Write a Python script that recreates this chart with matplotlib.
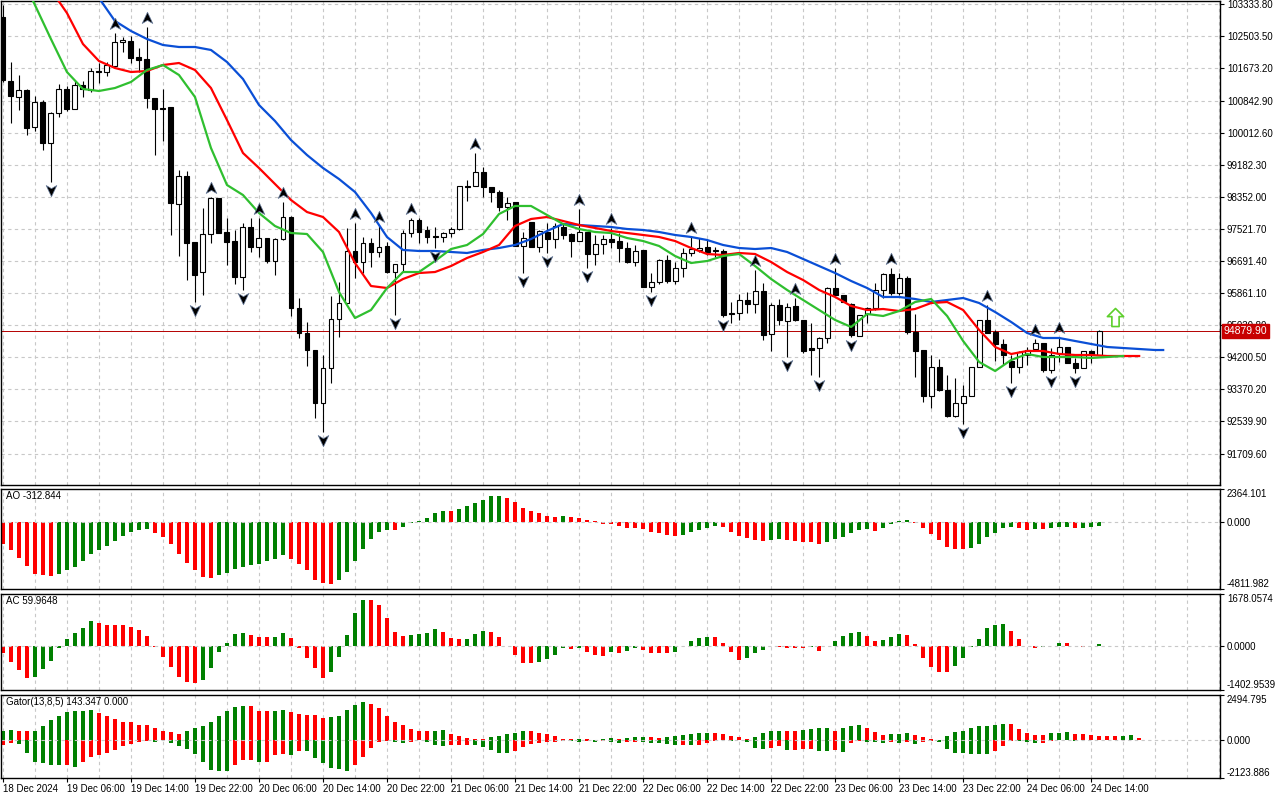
import matplotlib
matplotlib.use("Agg")
import matplotlib.pyplot as plt
from matplotlib.path import Path
from matplotlib.transforms import offset_copy, blended_transform_factory

plt.rcParams["font.family"] = ["Liberation Sans", "DejaVu Sans"]
plt.rcParams["font.size"] = 7

# H1 bars, first bar is 18 Dec 2024 22:00
opens = [103004, 101349, 100935, 101116, 100159, 100805, 99745, 100521, 101142, 100624,
         101245, 101116, 101607, 101582, 101737, 102357, 102383, 101969, 101918, 100909,
         100650, 100676, 98166, 98891, 97183, 96407, 97390, 98322, 97442, 97209,
         96278, 97572, 97054, 97287, 96692, 97261, 97830, 95476, 94829, 94389,
         93018, 93924, 95191, 95605, 96951, 96666, 97158, 96925, 97080, 96407,
         96614, 97416, 97753, 97494, 97339, 97313, 97416, 97520, 98632, 98632,
         98994, 98606, 98477, 98089, 98218, 97080, 97701, 97054, 97442, 97261,
         97572, 97390, 97209, 97442, 96873, 97132, 97261, 97209, 97028, 96666,
         96977, 96019, 96149, 96718, 96175, 96511, 96899, 96977, 97054, 96951,
         96951, 95347, 95347, 95683, 95580, 95916, 94804, 95554, 95140, 95528,
         95166, 94441, 94441, 94700, 95993, 95812, 95580, 94752, 95321, 95476,
         95942, 96356, 95864, 96252, 94855, 94389, 93199, 93950, 93354, 92682,
         93018, 93199, 93950, 95166, 94855, 94545, 94105, 93950, 94260, 94415,
         94571, 93872, 94312, 94467, 94053, 93924, 94364, 94260]
highs = [103315, 101840, 101504, 101142, 100960, 100857, 100547, 101271, 101219, 101374,
         101349, 101685, 101814, 101840, 102590, 102487, 102513, 102202, 102745, 100909,
         101142, 100676, 99046, 99020, 97183, 98063, 98348, 98322, 97804, 97494,
         97675, 97804, 97804, 97287, 97287, 98218, 97856, 95735, 95114, 94389,
         94260, 95786, 96149, 97546, 97675, 97313, 97287, 97597, 97183, 96614,
         97494, 97804, 97804, 97597, 97572, 97442, 97572, 98632, 98787, 99486,
         99124, 98606, 98529, 98348, 98218, 97442, 97701, 97494, 97675, 97675,
         97675, 97416, 98037, 97442, 97365, 97365, 97546, 97416, 97183, 97106,
         96977, 96381, 96744, 96847, 96666, 97028, 97313, 97287, 97235, 97054,
         97002, 95631, 95838, 95890, 96459, 96123, 95605, 95709, 95605, 95735,
         95166, 95088, 94726, 96019, 96511, 95812, 95605, 95295, 95502, 96123,
         96381, 96511, 96381, 96304, 95321, 94389, 94260, 94157, 93743, 93665,
         93484, 93950, 95166, 95554, 94907, 94674, 94260, 94364, 94467, 94674,
         94571, 94441, 94726, 94467, 94183, 94364, 94389, 94907]
lows = [101323, 100262, 100598, 99952, 100055, 99564, 98736, 100417, 100572, 100624,
        100935, 101064, 101297, 101478, 101711, 102099, 101814, 101581, 100650, 99434,
        99796, 97365, 96821, 96200, 95631, 95812, 97158, 97416, 96588, 96097,
        95942, 96925, 96795, 96640, 96330, 97235, 95269, 94700, 93976, 92630,
        92268, 93536, 94726, 95605, 96252, 96381, 96537, 96795, 96381, 95295,
        96407, 97313, 97158, 97158, 97028, 97183, 97313, 97494, 98244, 98632,
        98348, 98218, 97985, 97753, 97080, 96381, 97054, 96925, 96899, 97028,
        97261, 96795, 97209, 96511, 96588, 96873, 97028, 96666, 96640, 96563,
        96019, 95890, 96097, 96123, 96097, 96278, 96821, 96925, 96847, 96795,
        95243, 95088, 95166, 95347, 95347, 94648, 94364, 95036, 94208, 95140,
        94312, 93743, 93691, 94571, 95812, 95631, 94726, 94752, 95088, 95424,
        95735, 95812, 95812, 94804, 93691, 93044, 92889, 93329, 92656, 92656,
        92475, 93199, 93950, 94829, 94105, 94002, 93536, 93795, 94002, 94389,
        93820, 93795, 94079, 94053, 93795, 93924, 94053, 94260]
closes = [101374, 100960, 101116, 100133, 100805, 99745, 100521, 101142, 100624, 101245,
          101142, 101607, 101581, 101762, 102357, 102409, 101944, 101892, 100909, 100624,
          100624, 98192, 98891, 97158, 96330, 97390, 98322, 97416, 97183, 96278,
          97572, 97054, 97287, 96692, 97261, 97830, 95476, 94829, 94389, 93018,
          93924, 95191, 95605, 96951, 96666, 97158, 96925, 97054, 96407, 96614,
          97416, 97753, 97442, 97313, 97313, 97416, 97520, 98632, 98606, 98994,
          98606, 98477, 98089, 98192, 97080, 97287, 97054, 97468, 97261, 97597,
          97365, 97209, 97442, 96873, 97132, 97261, 97183, 97028, 96666, 96951,
          96019, 96149, 96718, 96175, 96511, 96899, 97002, 97028, 96925, 96960,
          95295, 95321, 95683, 95580, 95916, 94778, 95554, 95166, 95502, 95166,
          94364, 94389, 94700, 95993, 95812, 95631, 94778, 95295, 95476, 95942,
          96356, 95864, 96252, 94855, 94364, 93199, 93950, 93354, 92682, 93018,
          93199, 93950, 95166, 94829, 94545, 94260, 93950, 94338, 94389, 94571,
          93872, 94260, 94467, 94053, 93924, 94364, 94260, 94879.90]

time_labels = ["18 Dec 2024", "19 Dec 06:00", "19 Dec 14:00", "19 Dec 22:00", "20 Dec 06:00",
               "20 Dec 14:00", "20 Dec 22:00", "21 Dec 06:00", "21 Dec 14:00", "21 Dec 22:00",
               "22 Dec 06:00", "22 Dec 14:00", "22 Dec 22:00", "23 Dec 06:00", "23 Dec 14:00",
               "23 Dec 22:00", "24 Dec 06:00", "24 Dec 14:00"]

fractal_up = [14, 18, 26, 32, 35, 44, 47, 51, 59, 72, 76, 86, 94, 99, 104, 111, 123, 129, 132]
fractal_down = [6, 24, 30, 40, 49, 54, 65, 68, 73, 81, 90, 98, 102, 106, 120, 126, 131, 134]

# Alligator, already shifted forward (jaw 8, teeth 5, lips 3)
jaw_bars = list(range(12, 145, 2)) + [145]
jaw = [103496, 102901, 102642, 102435, 102280, 102228, 102228, 102151, 101840, 101400,
       100728, 100314, 99822, 99434, 99098, 98813, 98477, 97934, 97313, 96977,
       96951, 96951, 96925, 96899, 96977, 97028, 97106, 97261, 97468, 97649,
       97623, 97597, 97572, 97520, 97494, 97442, 97365, 97313, 97235, 97106,
       97028, 97002, 97028, 96925, 96744, 96562, 96381, 96175, 95993, 95761,
       95761, 95709, 95631, 95683, 95735, 95605, 95372, 95114, 94829, 94700,
       94700, 94622, 94545, 94467, 94441, 94415, 94389, 94389]
teeth_bars = list(range(6, 143, 2))
teeth = [103703, 103108, 102306, 101866, 101685, 101581, 101607, 101762, 101814, 101633,
         101167, 100340, 99486, 99098, 98684, 98270, 97959, 97830, 97442, 96640,
         96045, 95993, 96226, 96381, 96407, 96562, 96770, 96925, 97106, 97597,
         97779, 97830, 97727, 97623, 97546, 97468, 97416, 97365, 97313, 97209,
         97028, 96873, 96847, 96899, 96873, 96666, 96407, 96200, 95942, 95761,
         95528, 95424, 95450, 95398, 95450, 95605, 95631, 95424, 94907, 94467,
         94286, 94364, 94364, 94286, 94260, 94260, 94234, 94234, 94234]
lips_bars = [3] + list(range(4, 141, 2))
lips = [103754, 103315, 102435, 101581, 101142, 101090, 101167, 101323, 101633, 101762,
        101504, 100935, 99615, 98658, 98399, 97934, 97597, 97416, 97390, 96925,
        95890, 95217, 95424, 95993, 96407, 96407, 96692, 97002, 97106, 97390,
        97908, 98115, 98115, 97882, 97649, 97520, 97442, 97416, 97287, 97209,
        97080, 96821, 96640, 96692, 96821, 96873, 96562, 96226, 95942, 95683,
        95424, 95166, 94985, 95321, 95269, 95398, 95631, 95709, 95269, 94622,
        94079, 93846, 94131, 94286, 94208, 94208, 94208, 94183, 94208, 94234]

ao = [-1604, -2048, -2590, -3158, -3700, -3824, -3898, -3750, -3454, -3256,
      -2837, -2270, -2048, -1752, -1382, -1011, -715, -567, -518, -789,
      -1085, -1604, -2270, -2936, -3454, -3972, -4021, -3824, -3651, -3380,
      -3232, -3059, -3034, -2788, -2640, -2344, -2640, -3010, -3454, -4169,
      -4391, -4441, -4194, -3602, -2788, -1924, -1234, -715, -567, -580,
      -345, -49, 74, 296, 666, 814, 800, 913, 1110, 1357,
      1604, 1850, 1870, 1702, 1431, 1036, 814, 617, 444, 370,
      419, 370, 296, 148, 49, -173, -180, -321, -419, -430,
      -493, -715, -789, -913, -1011, -913, -691, -567, -419, -321,
      -370, -691, -987, -1160, -1308, -1357, -1308, -1234, -1308, -1357,
      -1406, -1431, -1604, -1431, -1234, -1061, -789, -567, -493, -617,
      -419, -123, 49, 123, -49, -419, -863, -1308, -1776, -1924,
      -1974, -1850, -1554, -1110, -789, -419, -370, -444, -567, -493,
      -500, -419, -370, -365, -444, -419, -370, -313]
ac = [-225, -492, -749, -1006, -1000, -728, -460, -64, 235, 439,
      589, 813, 749, 696, 690, 685, 621, 524, 332, -32,
      -332, -653, -974, -1156, -1166, -1091, -685, -171, 107, 396,
      428, 353, 300, 295, 305, 428, 268, -64, -364, -685,
      -1027, -835, -332, 364, 1070, 1487, 1480, 1327, 910, 460,
      332, 375, 385, 428, 556, 460, 268, 235, 240, 396,
      492, 460, 310, 21, -268, -524, -530, -492, -396, -268,
      -43, -86, -43, -171, -268, -300, -193, -203, -139, -64,
      -107, -203, -225, -230, -193, 5, 171, 257, 300, 290,
      107, -171, -428, -364, -225, -107, 5, -21, -43, -50,
      -55, -21, -139, 5, 171, 332, 428, 471, 332, 171,
      203, 300, 407, 364, 75, -364, -663, -813, -820, -621,
      -364, -32, 235, 578, 696, 700, 503, 235, 2, -43,
      -21, 21, 107, 100, 5, -10, 10, 60]
gator_up = [519, 557, 501, 464, 482, 779, 1076, 1336, 1521, 1577,
            1632, 1670, 1484, 1299, 1169, 1020, 1010, 835, 825, 686,
            501, 427, 315, 464, 649, 779, 1020, 1299, 1577, 1818,
            1892, 1855, 1614, 1577, 1632, 1670, 1521, 1447, 1391, 1380,
            1206, 1261, 1354, 1670, 1948, 2133, 2003, 1762, 1299, 1020,
            798, 612, 519, 464, 501, 538, 315, 186, 93, 56,
            37, 148, 241, 315, 408, 519, 464, 371, 334, 241,
            74, 37, 40, 19, 15, 37, 93, 74, 93, 130,
            148, 130, 111, 148, 223, 278, 352, 371, 390, 371,
            315, 186, 130, 74, 130, 371, 501, 519, 501, 482,
            538, 594, 631, 649, 519, 668, 742, 798, 686, 427,
            278, 315, 352, 390, 260, 130, 37, 5, 186, 427,
            501, 686, 742, 779, 835, 890, 872, 612, 371, 278,
            260, 371, 408, 427, 315, 297, 278, 241, 223, 204,
            241, 260, 93]
gator_down = [-278, -186, -241, -742, -1206, -1299, -1391, -1410, -1391, -1521,
              -1243, -965, -835, -705, -557, -371, -241, -130, -56, -93,
              -37, -186, -334, -519, -798, -1261, -1670, -1725, -1762, -1391,
              -1150, -1113, -1243, -1224, -835, -779, -835, -594, -649, -1020,
              -1299, -1577, -1614, -1707, -1391, -965, -464, -148, -56, -93,
              -186, -148, -37, -93, -315, -334, -315, -310, -278, -315,
              -408, -557, -742, -750, -649, -408, -223, -186, -130, -93,
              -56, -60, -93, -90, -130, -56, -130, -186, -148, -93,
              -130, -186, -190, -241, -315, -278, -297, -278, -186, -56,
              -37, -40, -19, -130, -464, -501, -427, -371, -557, -538,
              -519, -501, -612, -649, -557, -686, -150, -56, -93, -148,
              -186, -148, -167, -130, -223, -93, -90, -130, -501, -705,
              -723, -779, -798, -816, -649, -334, -56, -74, -130, -186,
              -167, -56, -19, -37, -56, -37, -19, -37, -19, -18,
              -19]

signal_bar = 139
signal_price = 95256

price_ticks = [91709.60, 92539.90, 93370.20, 94200.50, 95030.80, 95861.10, 96691.40, 97521.70,
               98352.00, 99182.30, 100012.60, 100842.90, 101673.20, 102503.50, 103333.80]
ao_ticks = [-4811.982, 0.0, 2364.101]
ac_ticks = [-1402.9539, 0.0, 1678.0574]
gator_ticks = [-2123.886, 0.0, 2494.795]

GREEN = "#008000"
RED = "#ff0000"
GRID = "#c8c8c8"
DASH = (0, (3, 3))


def bar_colors(vals, first, by_size=False):
    cols = [first]
    for i in range(1, len(vals)):
        a, b = vals[i], vals[i - 1]
        if by_size:
            a, b = abs(a), abs(b)
        cols.append(GREEN if a > b else RED)
    return cols


def setup(ax, ylim, ticks, fmt):
    ax.set_xlim(-0.24, 152.1)
    ax.set_ylim(*ylim)
    ax.yaxis.tick_right()
    ax.set_yticks(ticks)
    ax.set_yticklabels([fmt % t for t in ticks])
    ax.tick_params(axis="y", direction="out", length=3, width=0.8, pad=2, labelsize=7)
    ax.set_xticks(range(0, 153, 4), minor=True)
    ax.set_xticks(range(0, 137, 8))
    ax.tick_params(axis="x", which="both", length=0, labelbottom=False)
    ax.grid(True, which="both", axis="x", color=GRID, linestyle=DASH, linewidth=0.8)
    ax.set_axisbelow(True)
    for s in ax.spines.values():
        s.set_color("black")
        s.set_linewidth(1)


def edge_labels(ax):
    labels = ax.get_yticklabels()
    labels[0].set_verticalalignment("bottom")
    labels[-1].set_verticalalignment("top")


fig = plt.figure(figsize=(12.8, 8), dpi=100)
left, width = 1 / 1280, 1219 / 1280
ax_p = fig.add_axes([left, 1 - 485 / 800, width, 484 / 800])
ax_ao = fig.add_axes([left, 1 - 589 / 800, width, 100 / 800])
ax_ac = fig.add_axes([left, 1 - 690 / 800, width, 96 / 800])
ax_g = fig.add_axes([left, 1 - 778 / 800, width, 83 / 800])

# price panel
setup(ax_p, (90897, 103418), price_ticks, "%.2f")
ax_p.grid(True, which="major", axis="y", color=GRID, linestyle=DASH, linewidth=0.8)

bars = list(range(len(opens)))
ax_p.vlines(bars, lows, highs, color="black", linewidth=0.8, zorder=3)
bottoms = [min(o, c) for o, c in zip(opens, closes)]
heights = [max(abs(c - o), 14) for o, c in zip(opens, closes)]
faces = ["white" if c > o else "black" for o, c in zip(opens, closes)]
ax_p.bar(bars, heights, bottom=bottoms, width=0.62, color=faces, edgecolor="black",
         linewidth=0.8, zorder=4)

ax_p.plot(jaw_bars, jaw, color="#0a4fd6", linewidth=1.6, zorder=5)
ax_p.plot(teeth_bars, teeth, color="#ff0000", linewidth=1.6, zorder=5)
ax_p.plot(lips_bars, lips, color="#2fbf2f", linewidth=1.6, zorder=5)

up_arrow = Path([(0, 1), (0.85, -0.8), (0, -0.3), (-0.85, -0.8), (0, 1)],
                [Path.MOVETO, Path.LINETO, Path.LINETO, Path.LINETO, Path.CLOSEPOLY])
down_arrow = Path([(0, -1), (0.85, 0.8), (0, 0.3), (-0.85, 0.8), (0, -1)],
                  [Path.MOVETO, Path.LINETO, Path.LINETO, Path.LINETO, Path.CLOSEPOLY])
up_tr = offset_copy(ax_p.transData, fig=fig, x=0, y=6.5, units="points")
down_tr = offset_copy(ax_p.transData, fig=fig, x=0, y=-5.5, units="points")
ax_p.plot(fractal_up, [highs[i] for i in fractal_up], linestyle="none", marker=up_arrow,
          markersize=9, color="black", markeredgecolor="#6a7fa0", markeredgewidth=0.5,
          transform=up_tr, zorder=6)
ax_p.plot(fractal_down, [lows[i] for i in fractal_down], linestyle="none", marker=down_arrow,
          markersize=9, color="black", markeredgecolor="#6a7fa0", markeredgewidth=0.5,
          transform=down_tr, zorder=6)

signal_arrow = Path([(0, 1), (0.9, 0.1), (0.4, 0.1), (0.4, -1), (-0.4, -1), (-0.4, 0.1),
                     (-0.9, 0.1), (0, 1)],
                    [Path.MOVETO] + [Path.LINETO] * 6 + [Path.CLOSEPOLY])
ax_p.plot([signal_bar], [signal_price], marker=signal_arrow, markersize=13, color="white",
          markeredgecolor="#5ccf2a", markeredgewidth=1.2, linestyle="none", zorder=6)

last = closes[-1]
ax_p.axhline(last, color="#b40000", linewidth=0.7, zorder=2)
ax_p.text(1 + 4 / 1219, last, "%.2f" % last, color="white", fontsize=7.5, va="center",
          ha="left", transform=blended_transform_factory(ax_p.transAxes, ax_p.transData),
          bbox=dict(boxstyle="square,pad=0.15", fc="#c80000", ec="#c80000"),
          clip_on=False, zorder=10)

# AO
setup(ax_ao, (ao_ticks[0], ao_ticks[-1]), ao_ticks, "%.3f")
edge_labels(ax_ao)
ax_ao.axhline(0, color=GRID, linestyle=DASH, linewidth=0.8)
ax_ao.bar(range(len(ao)), ao, width=0.5, color=bar_colors(ao, RED), linewidth=0)
ax_ao.text(0.004, 0.975, "AO -312.844", transform=ax_ao.transAxes, va="top", ha="left")

# AC
setup(ax_ac, (ac_ticks[0], ac_ticks[-1]), ac_ticks, "%.4f")
edge_labels(ax_ac)
ax_ac.axhline(0, color=GRID, linestyle=DASH, linewidth=0.8)
ax_ac.bar(range(len(ac)), ac, width=0.5, color=bar_colors(ac, RED), linewidth=0)
ax_ac.text(0.004, 0.975, "AC 59.9648", transform=ax_ac.transAxes, va="top", ha="left")

# Gator
setup(ax_g, (gator_ticks[0], gator_ticks[-1]), gator_ticks, "%.3f")
edge_labels(ax_g)
ax_g.axhline(0, color=GRID, linestyle=DASH, linewidth=0.8)
ax_g.bar(range(len(gator_up)), gator_up, width=0.55,
         color=bar_colors(gator_up, GREEN, by_size=True), linewidth=0)
ax_g.bar(range(len(gator_down)), gator_down, width=0.55,
         color=bar_colors(gator_down, RED, by_size=True), linewidth=0)
ax_g.text(0.004, 0.97, "Gator(13,8,5) 143.347 0.000", transform=ax_g.transAxes,
          va="top", ha="left")
ax_g.tick_params(axis="x", which="major", length=3, width=0.8, direction="out",
                 labelbottom=True, pad=1, labelsize=7)
ax_g.set_xticklabels(time_labels)
for lab in ax_g.get_xticklabels():
    lab.set_horizontalalignment("left")

fig.savefig("out.png", dpi=100)
